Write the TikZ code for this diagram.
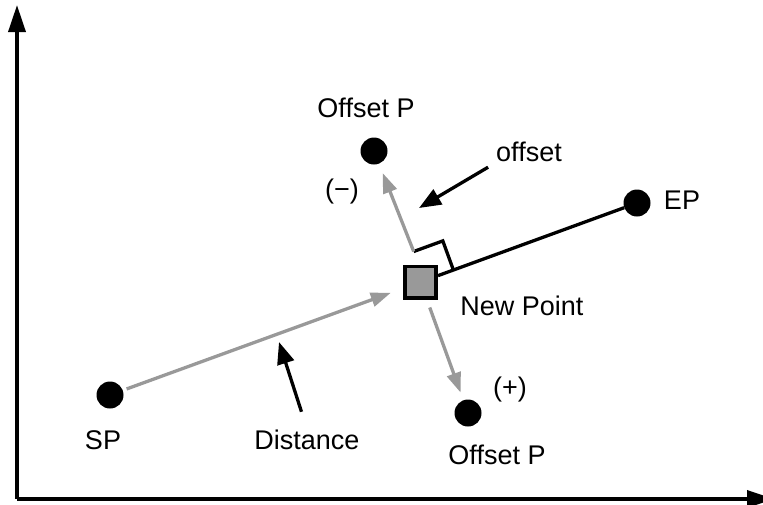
\documentclass[tikz,border=0pt]{standalone}
\usepackage{fontspec}
\setmainfont{Liberation Sans}
\usetikzlibrary{arrows.meta,positioning,calc}
\definecolor{Ink}{HTML}{000000}
\definecolor{Lead}{HTML}{999999}
\newcommand{\PtLabel}[4]{%
  \node[font=\fontsize{27}{32}\selectfont,inner sep=1pt] (#1) at (#2,#3) {#4};%
}

\begin{document}
\begin{tikzpicture}[x=1pt,y=-1pt,
  dot/.style={circle,fill=Ink,minimum size=27pt,inner sep=0pt},
  move/.style={draw=Lead,line width=3.3pt,-{Triangle[length=20pt,width=14pt]}},
  hint/.style={draw=Ink,line width=3.3pt,-{Triangle[length=22pt,width=17pt]}}]
\clip (0,0) rectangle (763,504);
% axes
\coordinate (o) at (17,499);
\coordinate (ytop) at (17,5);
\coordinate (xend) at (774,499);
\draw[Ink,line width=3.5pt,-{Triangle[length=27pt,width=17pt]}] (o) -- (ytop);
\draw[Ink,line width=3.5pt,-{Triangle[length=27pt,width=17pt]}] (o) -- (xend);
% points
\foreach \n/\x/\y in {sp/110/395,ep/637/203,opm/374/151,opp/468/413} {
  \node[dot] (\n) at (\x,\y) {};
}
\node[draw=Ink,line width=3.6pt,fill=Lead,minimum size=31.4pt,inner sep=0pt] (np) at (420.5,282) {};
% labels
\PtLabel{splbl}{103}{440}{SP}
\PtLabel{distlbl}{307}{440}{Distance}
\PtLabel{eplbl}{682}{200}{EP}
\PtLabel{npl}{522}{306}{New Point}
\PtLabel{opmlbl}{366}{108}{Offset P}
\PtLabel{oppl}{497}{455}{Offset P}
\PtLabel{minus}{342}{192}{(−)}
\PtLabel{plus}{510}{390}{(+)}
\PtLabel{offlbl}{529}{152}{offset}
% right angle mark
\coordinate (rC) at (453.4,270);
\coordinate (rB) at (442.8,240.9);
\coordinate (rA) at (413.7,251.5);
\draw[Ink,line width=3.3pt] (rA) -- (rB) -- (rC);
% connectors
\draw[Ink,line width=3.3pt] (np) -- (ep);
\draw[move,shorten <=4pt,shorten >=13pt] (sp) -- (np);
\draw[move,shorten >=10pt] (rA) -- (opm);
\draw[move,shorten <=8.5pt,shorten >=8pt] (np) -- (opp);
\coordinate (offtip) at (419,208);
\coordinate (disttip) at (279,342);
\draw[hint,shorten <=8pt] (offlbl.south west) -- (offtip);
\draw[hint,shorten <=18pt] (distlbl.north) -- (disttip);
\end{tikzpicture}
\end{document}
